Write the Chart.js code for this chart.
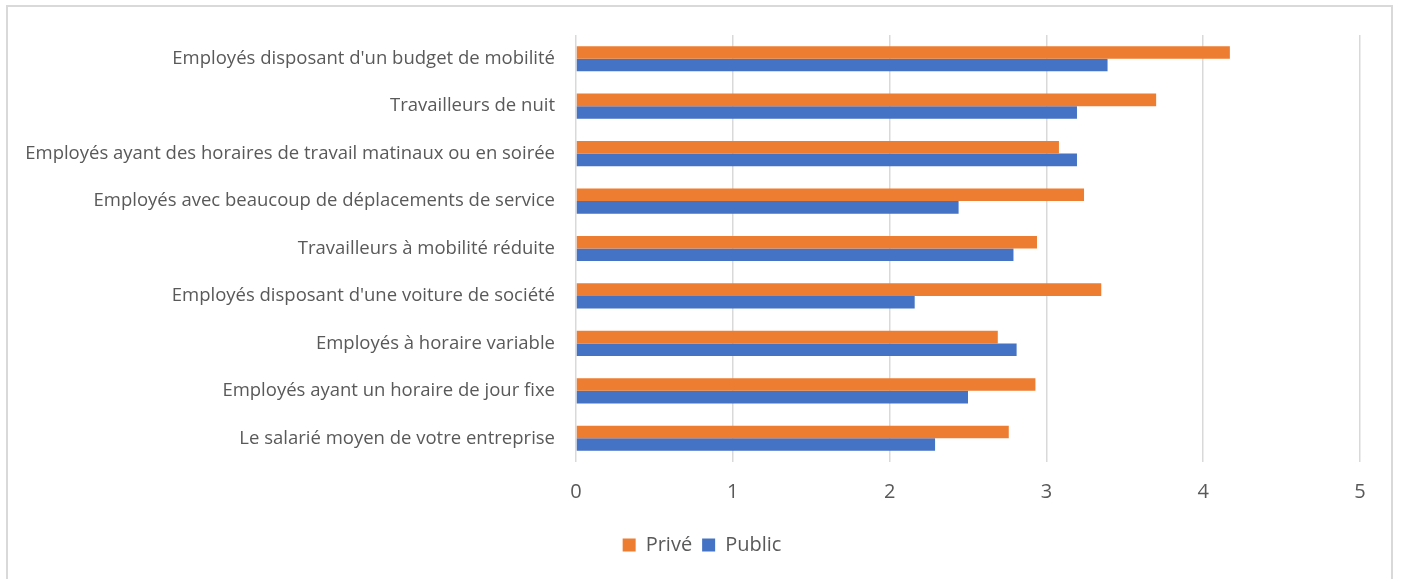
<!DOCTYPE html>
<html>
<head>
<meta charset="utf-8">
<script src="https://cdn.jsdelivr.net/npm/chart.js@4.4.0/dist/chart.umd.min.js"></script>
<style>
  html, body { margin: 0; padding: 0; background: #fff; }
  #wrap { position: relative; width: 1401px; height: 579px; overflow: hidden; }
  #frame { position: absolute; left: 6px; top: 5px; width: 1387px; height: 600px; border: 2px solid #d9d9d9; box-sizing: border-box; }
  canvas { position: absolute; left: 0; top: 0; }
</style>
</head>
<body>
<div id="wrap">
  <div id="frame"></div>
  <canvas id="c" width="1401" height="579"></canvas>
</div>
<script>
const categories = [
  "Employés disposant d'un budget de mobilité",
  "Travailleurs de nuit",
  "Employés ayant des horaires de travail matinaux ou en soirée",
  "Employés avec beaucoup de déplacements de service",
  "Travailleurs à mobilité réduite",
  "Employés disposant d'une voiture de société",
  "Employés à horaire variable",
  "Employés ayant un horaire de jour fixe",
  "Le salarié moyen de votre entreprise"
];
const prive  = [4.17, 3.70, 3.08, 3.24, 2.94, 3.35, 2.69, 2.93, 2.76];
const publicV = [3.39, 3.195, 3.195, 2.44, 2.79, 2.16, 2.81, 2.50, 2.29];
const seriesNames = ["Privé", "Public"];
const xTicks = [0, 1, 2, 3, 4, 5];

const FONT = "'Open Sans', 'Liberation Sans', sans-serif";
const TXT = '#595959';

const legendShift = {
  id: 'legendShift',
  afterLayout(chart) {
    if (chart.legend) { chart.legend.left += 22; chart.legend.right += 22; }
  }
};

new Chart(document.getElementById('c'), {
  type: 'bar',
  data: {
    labels: categories,
    datasets: [
      { label: seriesNames[0], data: prive, backgroundColor: '#ED7D31', borderWidth: 0 },
      { label: seriesNames[1], data: publicV, backgroundColor: '#4472C4', borderWidth: 0 }
    ]
  },
  plugins: [legendShift],
  options: {
    indexAxis: 'y',
    responsive: false,
    animation: false,
    devicePixelRatio: 1,
    layout: { padding: { top: 35, left: 0, right: 41, bottom: 14 } },
    datasets: { bar: { categoryPercentage: 0.53, barPercentage: 1.0 } },
    plugins: {
      legend: {
        position: 'bottom',
        labels: {
          color: TXT,
          font: { family: FONT, size: 20 },
          boxWidth: 13, boxHeight: 13, padding: 10
        }
      },
      tooltip: { enabled: false }
    },
    scales: {
      x: {
        min: 0, max: 5,
        afterBuildTicks: (s) => { s.ticks = xTicks.map(v => ({ value: v })); },
        afterFit: (s) => { s.height = 63; },
        grid: { color: '#d9d9d9', lineWidth: 1.5, drawTicks: false },
        border: { display: false },
        ticks: { color: TXT, font: { family: FONT, size: 20 }, padding: 18 }
      },
      y: {
        afterFit: (s) => { s.width = 576; },
        grid: { display: false, drawTicks: false },
        border: { display: false },
        ticks: { color: TXT, font: { family: FONT, size: 18.5 }, padding: 21, autoSkip: false }
      }
    }
  }
});
</script>
</body>
</html>
